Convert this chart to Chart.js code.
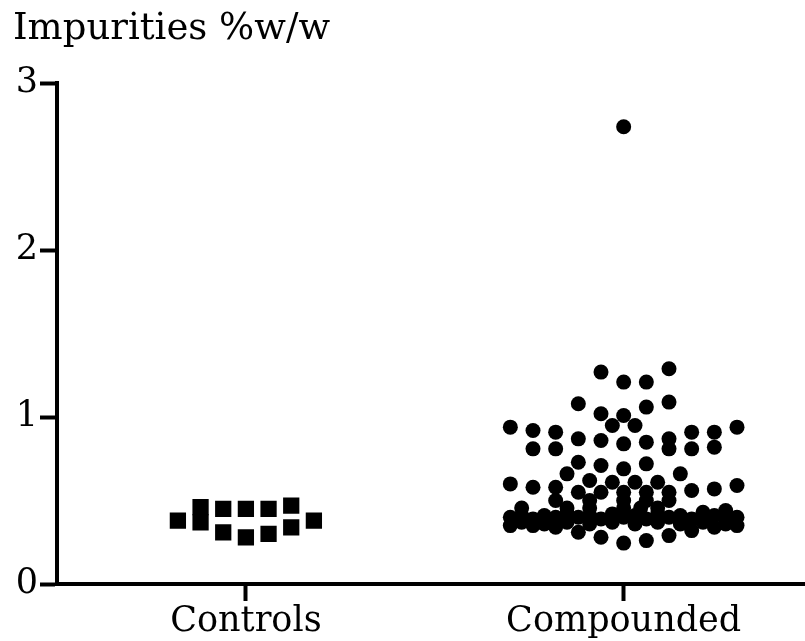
<!DOCTYPE html>
<html>
<head>
<meta charset="utf-8">
<script src="https://cdn.jsdelivr.net/npm/chart.js@4"></script>
<style>
  html, body { margin: 0; padding: 0; background: #fff; }
  #wrap { width: 805px; height: 641px; }
</style>
</head>
<body>
<div id="wrap"><canvas id="impChart"></canvas></div>
<script>
// groups on the x axis
var categories = ['Controls', 'Compounded'];
var yTicks = [0, 1, 2, 3];

// Controls: horizontal spread (category units) and impurity values
var controlsSpread = [-0.18, -0.12, -0.12, -0.06, -0.06, 0, 0, 0.06, 0.06, 0.12, 0.12, 0.18];
var controlsValues = [0.38, 0.46, 0.37, 0.45, 0.31, 0.45, 0.28, 0.45, 0.30, 0.47, 0.34, 0.38];

// Compounded: horizontal spread and impurity values
var compoundedSpread = [
  0,
  -0.06, 0.12, 0, 0.06,
  -0.12, 0.12, -0.06, 0.06, 0,
  -0.03, 0.03, -0.30, 0.30, -0.24, -0.18, 0.18, 0.24,
  -0.12, -0.06, 0, 0.06, 0.12, 0.12, -0.24, -0.18, 0.18, 0.24,
  -0.12, -0.06, 0, 0.06, -0.15, 0.15,
  -0.30, -0.24, -0.18, 0.30, 0.24, 0.18,
  -0.09, -0.03, 0.03, 0.09,
  -0.12, -0.06, 0, 0.06, 0.12,
  -0.18, -0.09, 0, 0.06, 0.12,
  -0.27, -0.15, -0.09, 0, 0.045, 0.09, 0.21, 0.27,
  -0.30, -0.27, -0.24, -0.21, -0.18, -0.15, -0.12, -0.09, -0.06, -0.03, 0, 0.03, 0.06, 0.09, 0.12, 0.15, 0.18, 0.21, 0.24, 0.27, 0.30,
  -0.27, -0.21, -0.15, -0.09, -0.03, 0.03, 0.09, 0.15, 0.21, 0.27,
  -0.30, -0.24, -0.18, -0.12, -0.06, 0, 0.06, 0.12, 0.18, 0.24, 0.30
];
var compoundedValues = [
  2.74,
  1.27, 1.29, 1.21, 1.21,
  1.08, 1.09, 1.02, 1.06, 1.01,
  0.95, 0.95, 0.94, 0.94, 0.92, 0.91, 0.91, 0.91,
  0.87, 0.86, 0.84, 0.85, 0.87, 0.81, 0.81, 0.81, 0.81, 0.82,
  0.73, 0.71, 0.69, 0.72, 0.66, 0.66,
  0.60, 0.58, 0.58, 0.59, 0.57, 0.56,
  0.62, 0.61, 0.61, 0.61,
  0.55, 0.55, 0.55, 0.55, 0.55,
  0.50, 0.50, 0.50, 0.50, 0.50,
  0.455, 0.455, 0.455, 0.455, 0.455, 0.455, 0.43, 0.44,
  0.40, 0.41, 0.39, 0.41, 0.40, 0.42, 0.40, 0.41, 0.39, 0.42, 0.40, 0.41, 0.39, 0.42, 0.40, 0.41, 0.39, 0.40, 0.41, 0.39, 0.40,
  0.37, 0.36, 0.37, 0.36, 0.37, 0.36, 0.37, 0.36, 0.37, 0.36,
  0.35, 0.35, 0.34, 0.31, 0.28, 0.245, 0.26, 0.29, 0.32, 0.34, 0.35
];

function toPoints(groupIndex, spread, values) {
  return values.map(function (v, i) {
    return { x: groupIndex + spread[i], y: v };
  });
}

var serif = 'DejaVu Serif';

var ctx = document.getElementById('impChart').getContext('2d');
var impChart = new Chart(ctx, {
  type: 'scatter',
  data: {
    datasets: [{
      label: categories[0],
      data: toPoints(0, controlsSpread, controlsValues),
      pointStyle: 'rect',
      pointRadius: 11.5,
      pointHoverRadius: 11.5,
      backgroundColor: '#000',
      borderColor: '#000',
      borderWidth: 0
    }, {
      label: categories[1],
      data: toPoints(1, compoundedSpread, compoundedValues),
      pointStyle: 'circle',
      pointRadius: 7.5,
      pointHoverRadius: 7.5,
      backgroundColor: '#000',
      borderColor: '#000',
      borderWidth: 0
    }]
  },
  options: {
    responsive: true,
    maintainAspectRatio: false,
    animation: false,
    layout: { autoPadding: false, padding: { left: 13, right: 0, top: 0, bottom: 0 } },
    plugins: {
      legend: { display: false },
      tooltip: { enabled: false },
      title: {
        display: true,
        text: 'Impurities %w/w',
        align: 'start',
        color: '#000',
        font: { family: serif, size: 37, weight: 'normal' },
        padding: { top: 7, bottom: 32 }
      }
    },
    scales: {
      x: {
        type: 'linear',
        min: -0.5,
        max: 1.48,
        afterBuildTicks: function (scale) {
          scale.ticks = categories.map(function (c, i) { return { value: i }; });
        },
        afterFit: function (scale) { scale.height = 57; },
        ticks: {
          color: '#000',
          font: { family: serif, size: 35 },
          padding: 0,
          maxRotation: 0,
          callback: function (v) { return categories[v]; }
        },
        grid: {
          drawOnChartArea: false,
          drawTicks: true,
          tickLength: 17,
          tickWidth: 4,
          tickColor: '#000'
        },
        border: { display: true, width: 4, color: '#000' }
      },
      y: {
        min: 0,
        max: 3,
        afterBuildTicks: function (scale) {
          scale.ticks = yTicks.map(function (v) { return { value: v }; });
        },
        afterFit: function (scale) { scale.width = 44; },
        ticks: {
          color: '#000',
          font: { family: serif, size: 35 },
          padding: 2
        },
        grid: {
          drawOnChartArea: false,
          drawTicks: true,
          tickLength: 17,
          tickWidth: 4,
          tickColor: '#000'
        },
        border: { display: true, width: 4, color: '#000' }
      }
    }
  }
});
</script>
</body>
</html>
